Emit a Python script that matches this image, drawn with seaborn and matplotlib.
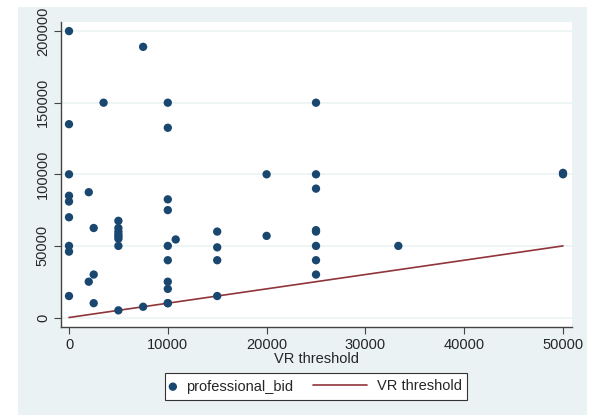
import numpy as np
import pandas as pd
import matplotlib
matplotlib.use("Agg")
import matplotlib.pyplot as plt
from matplotlib.patches import Rectangle
import seaborn as sns

# professional bids against the VR threshold
vr_threshold = [0, 0, 0, 0, 0, 0, 0, 0, 0,
                2000, 2000,
                2500, 2500, 2500,
                3500,
                5000, 5000, 5000, 5000, 5000, 5000, 5000, 5000,
                7500, 7500,
                10000, 10000, 10000, 10000, 10000, 10000, 10000, 10000, 10000, 10000,
                10800,
                15000, 15000, 15000, 15000,
                20000, 20000,
                25000, 25000, 25000, 25000, 25000, 25000, 25000, 25000,
                33333,
                50000, 50000]
professional_bid = [200000, 135000, 100000, 85000, 81000, 70000, 50000, 46000, 15000,
                    87500, 25000,
                    62500, 30000, 10000,
                    150000,
                    67500, 62500, 60000, 58000, 56500, 55000, 50000, 5000,
                    189000, 7500,
                    150000, 132500, 82500, 75000, 50000, 40000, 25000, 20000, 10000, 10000,
                    54500,
                    60000, 49000, 40000, 15000,
                    100000, 57000,
                    150000, 100000, 90000, 61000, 60000, 50000, 40000, 30000,
                    50000,
                    100000, 101000]

line_x = [0, 50000]
line_y = [0, 50000]

x_ticks = [0, 10000, 20000, 30000, 40000, 50000]
y_ticks = [0, 50000, 100000, 150000, 200000]

df = pd.DataFrame({"VR threshold": vr_threshold, "professional_bid": professional_bid})
line_df = pd.DataFrame({"x": line_x, "y": line_y})

sns.set_style("white")
plt.rcParams["font.family"] = ["Liberation Sans", "DejaVu Sans"]

navy = "#1A476F"
maroon = "#90353B"
outer_bg = "#EAF2F3"
W, H = 600, 416

fig = plt.figure(figsize=(6.0, 4.16), dpi=100)
fig.patch.set_facecolor("white")
fig.patches.append(Rectangle((18 / W, 1 - 415 / H), (587 - 18) / W, (415 - 7) / H,
                             transform=fig.transFigure, facecolor=outer_bg,
                             edgecolor="none", zorder=-10))

ax = fig.add_axes([61 / W, 1 - 327 / H, (572 - 61) / W, (327 - 22) / H])
ax.set_facecolor("white")

sns.scatterplot(data=df, x="VR threshold", y="professional_bid", ax=ax,
                color=navy, s=36, edgecolor="none", label="professional_bid", zorder=3)
sns.lineplot(data=line_df, x="x", y="y", ax=ax, color=maroon, lw=1.2,
             label="VR threshold", zorder=2)

ax.set_xlim(-810, 50910)
ax.set_ylim(-6630, 206350)
ax.set_xticks(x_ticks)
ax.set_yticks(y_ticks)
ax.set_xticklabels([str(t) for t in x_ticks], fontsize=10.5)
ax.set_yticklabels([str(t) for t in y_ticks], fontsize=10.5, rotation=90, va="center")

ax.grid(axis="y", color=outer_bg, lw=1.1)
ax.grid(axis="x", visible=False)
for side in ["top", "right"]:
    ax.spines[side].set_visible(False)
for side in ["left", "bottom"]:
    ax.spines[side].set_color("#444444")
    ax.spines[side].set_linewidth(1.0)
ax.tick_params(axis="both", direction="out", length=5, width=0.8, color="#444444",
               pad=3, bottom=True, left=True)

ax.set_xlabel("VR threshold", fontsize=10.5, labelpad=0)
ax.set_ylabel("")

# legend: stata style, two keys in one box, marker key short and line key long
ax.get_legend().remove()
handles, labels = ax.get_legend_handles_labels()
ly = 1 - 386.5 / H
fig.patches.append(Rectangle((165 / W, 1 - 400 / H), (467 - 165) / W, (400 - 373) / H,
                             transform=fig.transFigure, facecolor="white",
                             edgecolor="#333333", lw=0.8, zorder=1))
leg1 = fig.legend(handles[:1], labels[:1], loc="center left", bbox_to_anchor=(167 / W, ly),
                  fontsize=10.5, frameon=False, handlelength=0.8, handletextpad=0.49,
                  borderpad=0, borderaxespad=0)
leg2 = fig.legend(handles[1:], labels[1:], loc="center left", bbox_to_anchor=(313 / W, ly),
                  fontsize=10.5, frameon=False, handlelength=3.7, handletextpad=0.69,
                  borderpad=0, borderaxespad=0)

fig.savefig("out.png", dpi=100)
